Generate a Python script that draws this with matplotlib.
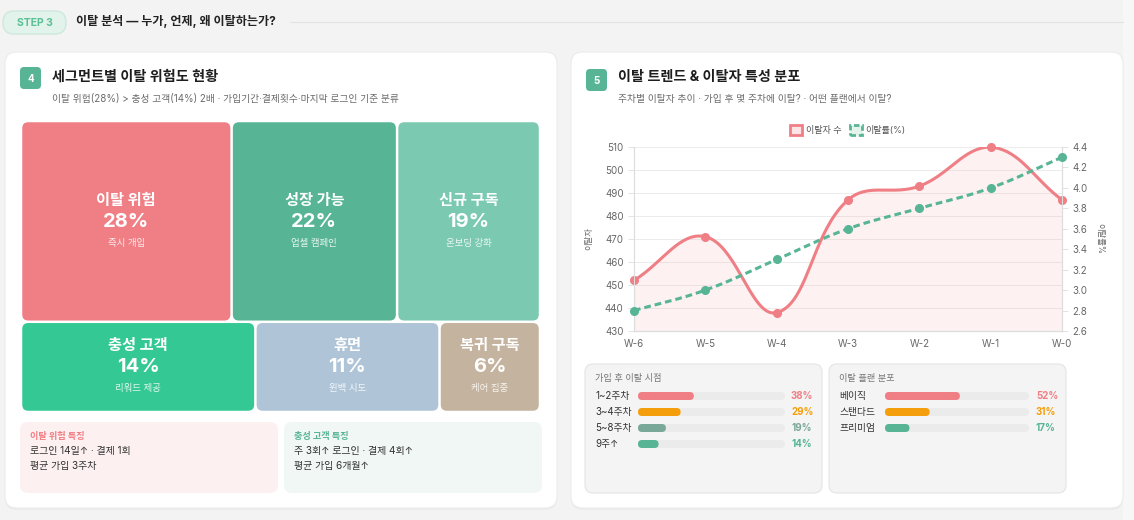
import numpy as np
import matplotlib
matplotlib.use("Agg")
import matplotlib.pyplot as plt
from matplotlib.patches import FancyBboxPatch, Patch

plt.rcParams['font.family'] = ['Inter', 'Noto Sans CJK KR', 'DejaVu Sans']

# ---- data ----
seg_names = ["이탈 위험", "성장 가능", "신규 구독", "충성 고객", "휴면", "복귀 구독"]
seg_values = [28, 22, 19, 14, 11, 6]
seg_actions = ["즉시 개입", "업셀 캠페인", "온보딩 강화", "리워드 제공", "윈백 시도", "케어 집중"]
seg_colors = ["#ef7f85", "#57b596", "#7ac9b0", "#34c994", "#b0c4d8", "#c4b39e"]
seg_rows = [3, 3]  # segments per treemap row

weeks = ["W-6", "W-5", "W-4", "W-3", "W-2", "W-1", "W-0"]
churn_count = [452, 471, 438, 487, 493, 510, 487]
churn_rate = [2.8, 3.0, 3.3, 3.6, 3.8, 4.0, 4.3]

timing_labels = ["1~2주차", "3~4주차", "5~8주차", "9주↑"]
timing_values = [38, 29, 19, 14]
timing_colors = ["#ef7f85", "#f59e0b", "#7aa898", "#57b596"]

plan_labels = ["베이직", "스탠다드", "프리미엄"]
plan_values = [52, 31, 17]
plan_colors = ["#ef7f85", "#f59e0b", "#57b596"]

W, H = 1134, 520
fig = plt.figure(figsize=(W / 100, H / 100), dpi=100)
fig.patch.set_facecolor("#f3f3f3")
bg = fig.add_axes([0, 0, 1, 1], zorder=0)
bg.set_xlim(0, W)
bg.set_ylim(H, 0)
bg.axis("off")


def rbox(x, y, w, h, fc, ec="none", r=6, lw=0.8, z=1):
    p = FancyBboxPatch((x, y), w, h, boxstyle="round,pad=0,rounding_size=%s" % r,
                       fc=fc, ec=ec, lw=lw, zorder=z)
    bg.add_patch(p)
    return p


# ---- header ----
bg.add_patch(plt.Rectangle((1123, 0), 11, H, fc="#f7f7f7", ec="none", zorder=0))
rbox(3, 11, 63, 23, "#e2f3eb", ec="#cde8dc", r=11, lw=1)
bg.text(34.5, 23, "STEP 3", color="#5bbf95", fontsize=7.5, fontweight="bold", ha="center", va="center")
bg.text(76, 22, "이탈 분석 — 누가, 언제, 왜 이탈하는가?", fontsize=8.7, fontweight="bold",
        color="#222222", va="center")
bg.plot([290, 1123], [22, 22], color="#e2e2e2", lw=0.8)

# ---- cards ----
for cx in (5, 571):
    rbox(cx, 54, 552, 456, "#ebebeb", r=12, z=1)
    rbox(cx, 52, 552, 456, "#ffffff", ec="#ececec", r=12, z=1)

# left card header
rbox(20, 67, 21, 22, "#57b596", r=4, z=2)
bg.text(30.5, 78.5, "4", color="white", fontsize=7, fontweight="bold", ha="center", va="center", zorder=3)
bg.text(52, 77, "세그먼트별 이탈 위험도 현황", fontsize=10.2, fontweight="bold", color="#1e1e1e", va="center")
bg.text(52, 99, "이탈 위험(28%) > 충성 고객(14%) 2배 · 가입기간·결제횟수·마지막 로그인 기준 분류",
        fontsize=7, color="#6b6b6b", va="center")

# treemap: two rows, heights proportional to row totals
tx0, tx1, ty0, ty1, gap = 21, 540, 121, 412, 2.5
total = sum(seg_values)
yy = ty0
k = 0
for ri, n in enumerate(seg_rows):
    vals = seg_values[k:k + n]
    rh = (ty1 - ty0) * sum(vals) / total
    xx = tx0
    for j in range(n):
        i = k + j
        bw = (tx1 - tx0) * vals[j] / sum(vals)
        rbox(xx + gap / 2, yy + gap / 2, bw - gap, rh - gap, seg_colors[i], r=6, z=2)
        cxm = xx + bw / 2
        cym = yy + rh / 2
        bg.text(cxm, cym - 21, seg_names[i], color="white", fontsize=11, fontweight="bold",
                ha="center", va="center", zorder=3)
        bg.text(cxm, cym + 0.5, "%d%%" % seg_values[i], color="white", fontsize=14.5, fontweight="bold",
                ha="center", va="center", zorder=3)
        bg.text(cxm, cym + 22, seg_actions[i], color="#ffffff", alpha=0.85, fontsize=6.8,
                ha="center", va="center", zorder=3)
        xx += bw
    yy += rh
    k += n

# feature boxes
rbox(20, 422, 258, 71, "#fdf0f1", r=8, z=2)
bg.text(30, 436, "이탈 위험 특징", color="#ef7f85", fontsize=6.6, fontweight="bold", va="center", zorder=3)
bg.text(30, 451, "로그인 14일↑ · 결제 1회", color="#333333", fontsize=7.2, va="center", zorder=3)
bg.text(30, 466, "평균 가입 3주차", color="#333333", fontsize=7.2, va="center", zorder=3)
rbox(284, 422, 258, 71, "#f1f7f4", r=8, z=2)
bg.text(294, 436, "충성 고객 특징", color="#57b596", fontsize=6.6, fontweight="bold", va="center", zorder=3)
bg.text(294, 451, "주 3회↑ 로그인 · 결제 4회↑", color="#333333", fontsize=7.2, va="center", zorder=3)
bg.text(294, 466, "평균 가입 6개월↑", color="#333333", fontsize=7.2, va="center", zorder=3)

# right card header
rbox(586, 69, 21, 22, "#57b596", r=4, z=2)
bg.text(596.5, 80.5, "5", color="white", fontsize=7, fontweight="bold", ha="center", va="center", zorder=3)
bg.text(618, 77, "이탈 트렌드 & 이탈자 특성 분포", fontsize=10.2, fontweight="bold", color="#1e1e1e", va="center")
bg.text(618, 99, "주차별 이탈자 추이 · 가입 후 몇 주차에 이탈? · 어떤 플랜에서 이탈?",
        fontsize=7, color="#6b6b6b", va="center")

# ---- line chart ----
axL, axR, axT, axB = 634, 1062, 147, 331
ax = fig.add_axes([axL / W, 1 - axB / H, (axR - axL) / W, (axB - axT) / H], zorder=2)
ax.patch.set_alpha(0)
ax2 = ax.twinx()
ax2.patch.set_alpha(0)

ylo, yhi = 430, 510
rlo, rhi = 2.6, 4.4
pw, ph = axR - axL, axB - axT


def spline(vals, lo, hi, t=0.4, n=40):
    # Chart.js style bezier with control point capping, computed in pixel space
    xs = np.arange(len(vals)) * pw / (len(vals) - 1)
    ys = (np.array(vals, float) - lo) / (hi - lo) * ph
    pts = np.c_[xs, ys]
    m = len(pts)
    cprev, cnext = [], []
    for i in range(m):
        p0 = pts[max(i - 1, 0)]
        p1 = pts[i]
        p2 = pts[min(i + 1, m - 1)]
        d01 = np.hypot(*(p1 - p0))
        d12 = np.hypot(*(p2 - p1))
        s01 = d01 / (d01 + d12) if d01 + d12 else 0
        s12 = d12 / (d01 + d12) if d01 + d12 else 0
        a = p1 - t * s01 * (p2 - p0)
        b = p1 + t * s12 * (p2 - p0)
        a[1] = np.clip(a[1], 0, ph)
        b[1] = np.clip(b[1], 0, ph)
        cprev.append(a)
        cnext.append(b)
    out = []
    u = np.linspace(0, 1, n)[:, None]
    for i in range(m - 1):
        P0, P1, P2, P3 = pts[i], cnext[i], cprev[i + 1], pts[i + 1]
        seg = (1 - u) ** 3 * P0 + 3 * (1 - u) ** 2 * u * P1 + 3 * (1 - u) * u ** 2 * P2 + u ** 3 * P3
        out.append(seg if i == 0 else seg[1:])
    c = np.vstack(out)
    return c[:, 0] / pw * (len(vals) - 1), c[:, 1] / ph * (hi - lo) + lo


x = np.arange(len(weeks))
sx, sy = spline(churn_count, ylo, yhi)
ax.fill_between(sx, sy, ylo, color="#ef7f85", alpha=0.1, lw=0, zorder=1)
ax.plot(sx, sy, color="#ef7f85", lw=2.2, zorder=3, solid_capstyle="round")
ax.plot(x, churn_count, "o", color="#ef7f85", ms=5.5, zorder=4, clip_on=False)

gx, gy = spline(churn_rate, rlo, rhi)
ax2.plot(gx, gy, color="#57b596", lw=2.2, linestyle=(0, (2.2, 1.3)), zorder=3)
ax2.plot(x, churn_rate, "o", color="#57b596", ms=5.5, zorder=4, clip_on=False)

ax.set_xlim(0, len(weeks) - 1)
ax.set_ylim(ylo, yhi)
ax2.set_ylim(rlo, rhi)
ax.set_xticks(x)
ax.set_xticklabels(weeks)
ax.set_yticks(np.arange(430, 511, 10))
ax2.set_yticks(np.arange(2.6, 4.41, 0.2))
ax2.set_yticklabels(["%.1f" % v for v in np.arange(2.6, 4.41, 0.2)])
ax.grid(axis="y", color="#ececec", lw=0.7)
ax.set_axisbelow(True)
for a in (ax, ax2):
    a.tick_params(labelsize=7, colors="#666666", length=4, width=0.7)
    a.tick_params(axis="both", color="#e3e3e3")
    for s in a.spines.values():
        s.set_color("#dddddd")
        s.set_linewidth(0.8)
    a.spines["top"].set_visible(False)
ax.tick_params(axis="x", pad=6, length=0)
ax.set_ylabel("이탈자", fontsize=6, color="#666666", labelpad=8)
ax2.set_ylabel("이탈률%", fontsize=6, color="#666666", rotation=-90, labelpad=12)

handles = [Patch(facecolor="#fde4e6", edgecolor="#ef7f85", lw=2, label="이탈자 수"),
           Patch(facecolor="#e3f4ec", edgecolor="#57b596", lw=2, linestyle=(0, (2, 1)), label="이탈률(%)")]
ax.legend(handles=handles, loc="lower center", bbox_to_anchor=(0.5, 1.02), ncol=2, frameon=False,
          fontsize=6.5, handlelength=1.3, handleheight=1.3, handletextpad=0.4, columnspacing=1.0,
          labelcolor="#555555")

# ---- distribution boxes ----
def bar_list(x0, title, labels, values, colors, tr0, tr1, vx):
    rbox(x0, 364, 237, 129, "#f4f4f4", ec="#e4e4e4", r=8, lw=0.8, z=2)
    bg.text(x0 + 10, 378, title, fontsize=6.6, color="#777777", va="center", zorder=3)
    for i, (lab, v, c) in enumerate(zip(labels, values, colors)):
        yc = 396 + i * 16
        bg.text(x0 + 10, yc, lab, fontsize=7, color="#333333", va="center", zorder=3)
        rbox(tr0, yc - 4, tr1 - tr0, 8, "#ebebeb", r=4, z=3)
        rbox(tr0, yc - 4, (tr1 - tr0) * v / 100, 8, c, r=4, z=4)
        bg.text(vx, yc, "%d%%" % v, fontsize=7, fontweight="bold", color=c, va="center", zorder=3)


bar_list(585, "가입 후 이탈 시점", timing_labels, timing_values, timing_colors, 638, 785, 791)
bar_list(829, "이탈 플랜 분포", plan_labels, plan_values, plan_colors, 885, 1029, 1036)

fig.savefig("out.png", dpi=100, facecolor=fig.get_facecolor())
